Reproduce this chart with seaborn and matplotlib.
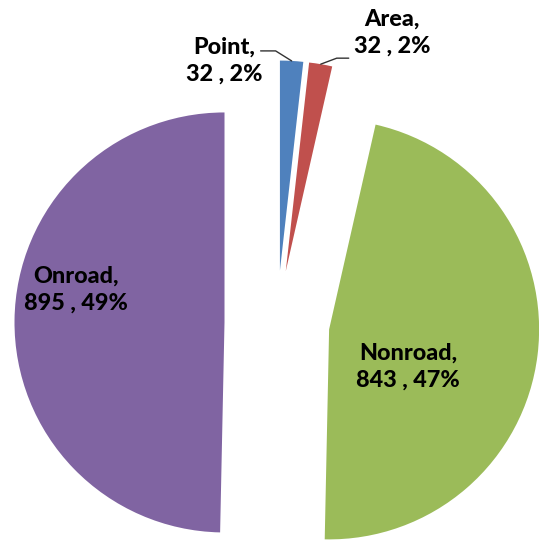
import numpy as np
import seaborn as sns
import matplotlib.pyplot as plt

# Data
sources = ['Point', 'Area', 'Nonroad', 'Onroad']
counts = [32, 32, 843, 895]
shares = ['2%', '2%', '47%', '49%']
colors = ['#4F81BD', '#C0504D', '#9BBB59', '#8064A2']

sns.set_style('white')
plt.rcParams['font.family'] = ['Lato', 'DejaVu Sans']

fig = plt.figure(figsize=(5.39, 5.40), dpi=100)
ax = fig.add_axes([0, 0, 1, 1])

wedges, _ = ax.pie(counts, colors=colors, startangle=90, counterclock=False,
                   explode=[0.25] * 4, radius=1.0,
                   wedgeprops=dict(linewidth=0))

# label positions (data units, pie radius = 1)
label_pos = {
    'Point': (-0.25, 1.25),
    'Area': (0.548, 1.381),
    'Nonroad': (0.624, -0.21),
    'Onroad': (-0.957, 0.157),
}

for w, name, n, pct in zip(wedges, sources, counts, shares):
    x, y = label_pos[name]
    ax.text(x, y, f'{name},\n{n} , {pct}', ha='center', va='center',
            fontsize=16.8, fontweight='black', linespacing=1.35, color='black')

# leader lines for the two small slices
px = 1 / 210.0
for w, name in zip(wedges[:2], sources[:2]):
    mid = np.deg2rad((w.theta1 + w.theta2) / 2)
    cx, cy = w.center
    tip = (cx + w.r * np.cos(mid), cy + w.r * np.sin(mid))
    if name == 'Point':
        elbow = (tip[0] - 16 * px, tip[1] + 10 * px)
        end = (elbow[0] - 15 * px, elbow[1])
    else:
        elbow = (tip[0] + 16 * px, tip[1] + 6 * px)
        end = (elbow[0] + 12 * px, elbow[1])
    ax.plot([tip[0], elbow[0], end[0]], [tip[1], elbow[1], end[1]],
            color='#333333', linewidth=1.0)

ax.set_xlim(-277 * px, (539 - 277) * px)
ax.set_ylim(-(540 - 323) * px, 323 * px)
ax.set_aspect('equal')
ax.axis('off')

plt.savefig('out.png', dpi=100)
plt.close()
